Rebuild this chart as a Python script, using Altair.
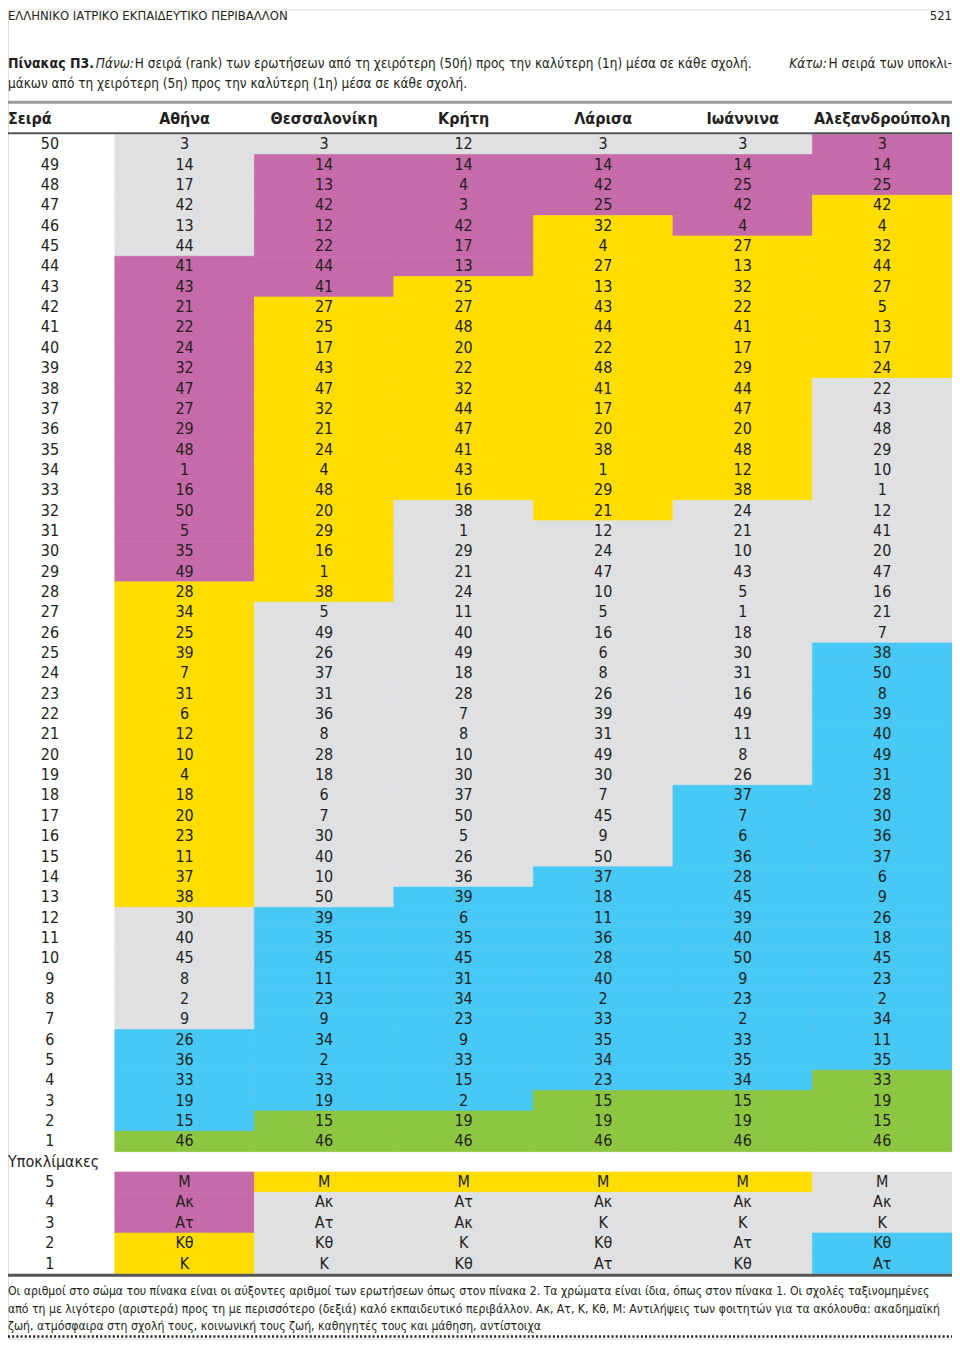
import altair as alt
import pandas as pd

# ---------------- data ----------------
schools = ["Αθήνα", "Θεσσαλονίκη", "Κρήτη", "Λάρισα", "Ιωάννινα", "Αλεξανδρούπολη"]
ranks = list(range(50, 0, -1))          # rows, worst (50) to best (1)
sub_ranks = [5, 4, 3, 2, 1]

athens = [3, 14, 17, 42, 13, 44, 41, 43, 21, 22, 24, 32, 47, 27, 29, 48, 1, 16, 50, 5,
          35, 49, 28, 34, 25, 39, 7, 31, 6, 12, 10, 4, 18, 20, 23, 11, 37, 38, 30, 40,
          45, 8, 2, 9, 26, 36, 33, 19, 15, 46]
thess = [3, 14, 13, 42, 12, 22, 44, 41, 27, 25, 17, 43, 47, 32, 21, 24, 4, 48, 20, 29,
         16, 1, 38, 5, 49, 26, 37, 31, 36, 8, 28, 18, 6, 7, 30, 40, 10, 50, 39, 35,
         45, 11, 23, 9, 34, 2, 33, 19, 15, 46]
crete = [12, 14, 4, 3, 42, 17, 13, 25, 27, 48, 20, 22, 32, 44, 47, 41, 43, 16, 38, 1,
         29, 21, 24, 11, 40, 49, 18, 28, 7, 8, 10, 30, 37, 50, 5, 26, 36, 39, 6, 35,
         45, 31, 34, 23, 9, 33, 15, 2, 19, 46]
larisa = [3, 14, 42, 25, 32, 4, 27, 13, 43, 44, 22, 48, 41, 17, 20, 38, 1, 29, 21, 12,
          24, 47, 10, 5, 16, 6, 8, 26, 39, 31, 49, 30, 7, 45, 9, 50, 37, 18, 11, 36,
          28, 40, 2, 33, 35, 34, 23, 15, 19, 46]
ioannina = [3, 14, 25, 42, 4, 27, 13, 32, 22, 41, 17, 29, 44, 47, 20, 48, 12, 38, 24, 21,
            10, 43, 5, 1, 18, 30, 31, 16, 49, 11, 8, 26, 37, 7, 6, 36, 28, 45, 39, 40,
            50, 9, 23, 2, 33, 35, 34, 15, 19, 46]
alex = [3, 14, 25, 42, 4, 32, 44, 27, 5, 13, 17, 24, 22, 43, 48, 29, 10, 1, 12, 41,
        20, 47, 16, 21, 7, 38, 50, 8, 39, 40, 49, 31, 28, 30, 36, 37, 6, 9, 26, 18,
        45, 23, 2, 34, 11, 35, 33, 19, 15, 46]

# colour bands per school, from rank 50 downwards: (category, number of rows)
athens_bands = [("grey", 6), ("purple", 16), ("yellow", 16), ("grey", 6), ("blue", 5), ("green", 1)]
thess_bands = [("grey", 1), ("purple", 7), ("yellow", 15), ("grey", 15), ("blue", 10), ("green", 2)]
crete_bands = [("grey", 1), ("purple", 6), ("yellow", 11), ("grey", 19), ("blue", 11), ("green", 2)]
larisa_bands = [("grey", 1), ("purple", 3), ("yellow", 15), ("grey", 17), ("blue", 11), ("green", 3)]
ioannina_bands = [("grey", 1), ("purple", 4), ("yellow", 13), ("grey", 14), ("blue", 15), ("green", 3)]
alex_bands = [("purple", 3), ("yellow", 9), ("grey", 13), ("blue", 21), ("green", 4)]

sub_labels = {
    "Αθήνα": ["Μ", "Ακ", "Ατ", "Κθ", "Κ"],
    "Θεσσαλονίκη": ["Μ", "Ακ", "Ατ", "Κθ", "Κ"],
    "Κρήτη": ["Μ", "Ατ", "Ακ", "Κ", "Κθ"],
    "Λάρισα": ["Μ", "Ακ", "Κ", "Κθ", "Ατ"],
    "Ιωάννινα": ["Μ", "Ακ", "Κ", "Ατ", "Κθ"],
    "Αλεξανδρούπολη": ["Μ", "Ακ", "Κ", "Κθ", "Ατ"],
}
sub_cats = {
    "Αθήνα": ["purple", "purple", "purple", "yellow", "yellow"],
    "Θεσσαλονίκη": ["yellow", "grey", "grey", "grey", "grey"],
    "Κρήτη": ["yellow", "grey", "grey", "grey", "grey"],
    "Λάρισα": ["yellow", "grey", "grey", "grey", "grey"],
    "Ιωάννινα": ["yellow", "grey", "grey", "grey", "grey"],
    "Αλεξανδρούπολη": ["grey", "grey", "grey", "blue", "blue"],
}

cat_domain = ["purple", "yellow", "grey", "blue", "green"]
cat_range = ["#C66AA9", "#FFDD00", "#DFE0E2", "#47C8F5", "#8DC640"]

page_header = "ΕΛΛΗΝΙΚΟ ΙΑΤΡΙΚΟ ΕΚΠΑΙΔΕΥΤΙΚΟ ΠΕΡΙΒΑΛΛΟΝ"
page_number = "521"
cap_bold = "Πίνακας Π3."
cap_it1 = "Πάνω:"
cap_text1 = "Η σειρά (rank) των ερωτήσεων από τη χειρότερη (50ή) προς την καλύτερη (1η) μέσα σε κάθε σχολή."
cap_it2 = "Κάτω:"
cap_text2 = "Η σειρά των υποκλι-"
cap_line2 = "μάκων από τη χειρότερη (5η) προς την καλύτερη (1η) μέσα σε κάθε σχολή."
foot_lines = [
    "Οι αριθμοί στο σώμα του πίνακα είναι οι αύξοντες αριθμοί των ερωτήσεων όπως στον πίνακα 2. Τα χρώματα είναι ίδια, όπως στον πίνακα 1. Οι σχολές ταξινομημένες",
    "από τη με λιγότερο (αριστερά) προς τη με περισσότερο (δεξιά) καλό εκπαιδευτικό περιβάλλον. Ακ, Ατ, Κ, Κθ, Μ: Αντιλήψεις των φοιτητών για τα ακόλουθα: ακαδημαϊκή",
    "ζωή, ατμόσφαιρα στη σχολή τους, κοινωνική τους ζωή, καθηγητές τους και μάθηση, αντίστοιχα",
]

# ---------------- tables ----------------
questions = [athens, thess, crete, larisa, ioannina, alex]
bands_list = [athens_bands, thess_bands, crete_bands, larisa_bands, ioannina_bands, alex_bands]

rows = []
for s, vals, bands in zip(schools, questions, bands_list):
    cats = [c for c, n in bands for _ in range(n)]
    for r, v, c in zip(ranks, vals, cats):
        rows.append({"school": s, "key": f"q{r}", "label": str(v), "cat": c})
for s in schools:
    for r, lab, c in zip(sub_ranks, sub_labels[s], sub_cats[s]):
        rows.append({"school": s, "key": f"s{r}", "label": lab, "cat": c})
cells = pd.DataFrame(rows)

ykeys = [f"q{r}" for r in ranks] + ["sep"] + [f"s{r}" for r in sub_ranks]
rank_df = pd.DataFrame({"key": [f"q{r}" for r in ranks] + [f"s{r}" for r in sub_ranks],
                        "label": [str(r) for r in ranks] + [str(r) for r in sub_ranks]})
sep_df = pd.DataFrame({"key": ["sep"], "label": ["Υποκλίμακες"]})
head_df = pd.DataFrame({"school": schools})
one = pd.DataFrame({"a": [0]})

NARROW = "'Liberation Sans Narrow', 'DejaVu Sans Condensed', 'Noto Sans', sans-serif"
INK = "#231F20"

W, H = 946, 1332
xs = alt.Scale(domain=schools, range=[107, 946], paddingInner=0, paddingOuter=0)
ys = alt.Scale(domain=ykeys, range=[125, 1267], paddingInner=0, paddingOuter=0)
X = alt.X("school:N", scale=xs, axis=None)
Y = alt.Y("key:N", scale=ys, axis=None, sort=ykeys)
cscale = alt.Scale(domain=cat_domain, range=cat_range)

rects = alt.Chart(cells).mark_rect(strokeWidth=0.6).encode(
    x=X, y=Y,
    fill=alt.Fill("cat:N", scale=cscale, legend=None),
    stroke=alt.Stroke("cat:N", scale=cscale, legend=None),
)
cell_text = alt.Chart(cells).mark_text(font=NARROW, fontSize=16, color=INK, baseline="middle").encode(
    x=X, y=Y, text="label:N")
rank_text = alt.Chart(rank_df).mark_text(font=NARROW, fontSize=16, color=INK, baseline="middle").encode(
    x=alt.value(42), y=Y, text="label:N")
sep_text = alt.Chart(sep_df).mark_text(font=NARROW, fontSize=16, color=INK, baseline="middle", align="left").encode(
    x=alt.value(0), y=Y, text="label:N")
head_text = alt.Chart(head_df).mark_text(font=NARROW, fontSize=16, fontWeight="bold", color=INK, baseline="middle").encode(
    x=X, y=alt.value(110), text="school:N")
seira = alt.Chart(one).mark_text(font=NARROW, fontSize=16, fontWeight="bold", color=INK, baseline="middle",
                                 align="left", text="Σειρά").encode(x=alt.value(0), y=alt.value(110))

top_rule = alt.Chart(one).mark_rule(color="#9A9A9A", strokeWidth=3).encode(
    x=alt.value(0), x2=alt.value(W), y=alt.value(93))
head_rule = alt.Chart(one).mark_rule(color="#555555", strokeWidth=2).encode(
    x=alt.value(0), x2=alt.value(W), y=alt.value(124))
bottom_rule = alt.Chart(one).mark_rule(color="#555555", strokeWidth=3).encode(
    x=alt.value(0), x2=alt.value(W), y=alt.value(1268.5))
dotted = alt.Chart(one).mark_rule(color=INK, strokeWidth=2.5, strokeDash=[2, 2.2]).encode(
    x=alt.value(0), x2=alt.value(W), y=alt.value(1330))


def txt(t, x, y, size=14, weight="normal", style="normal", align="left"):
    return alt.Chart(one).mark_text(font=NARROW, fontSize=size, fontWeight=weight, fontStyle=style,
                                    color=INK, align=align, baseline="middle", text=t).encode(
        x=alt.value(x), y=alt.value(y))


annots = [
    txt(page_header, 0, 7, size=13),
    txt(page_number, W, 7, size=13, align="right"),
    txt(cap_bold, 0, 55, size=14, weight="bold"),
    txt(cap_it1, 88, 55, size=13.5, style="italic"),
    txt(cap_text1, 127, 55, size=13.5),
    txt(cap_it2, 783, 55, size=13.5, style="italic"),
    txt(cap_text2, W, 55, size=13.5, align="right"),
    txt(cap_line2, 0, 75, size=13.5),
    txt(foot_lines[0], 0, 1284, size=12.2),
    txt(foot_lines[1], 0, 1302, size=12.2),
    txt(foot_lines[2], 0, 1319, size=12.2),
]

chart = alt.layer(
    rects, cell_text, rank_text, sep_text, head_text, seira,
    top_rule, head_rule, bottom_rule, dotted, *annots
).properties(
    width=W, height=H, autosize=alt.AutoSizeParams(type="none"), padding=0
).configure_view(stroke=None).configure(background="white")

chart.save("out.html", embed_options={"renderer": "svg", "actions": False})
